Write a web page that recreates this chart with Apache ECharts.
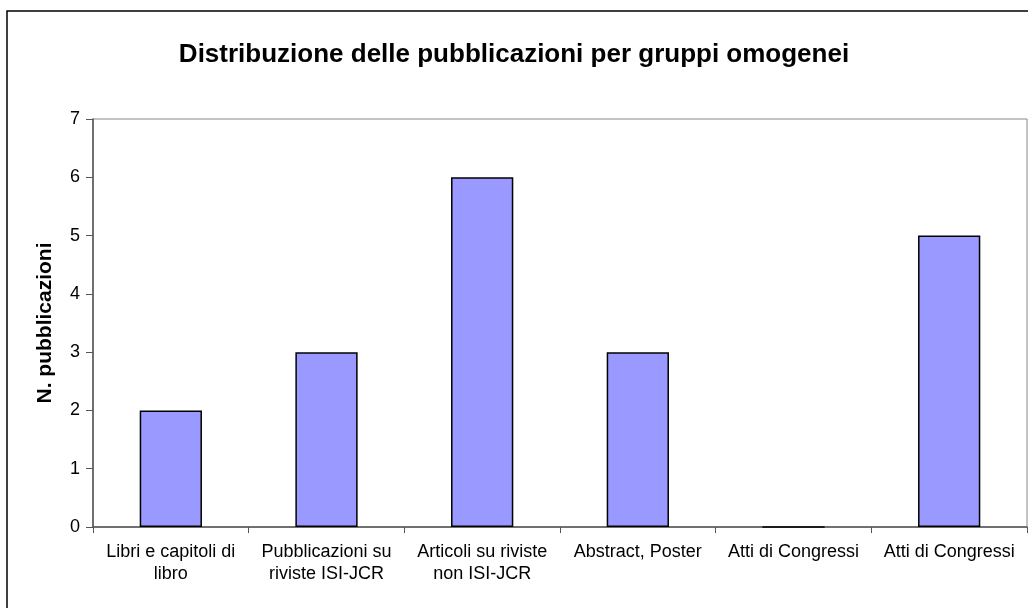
<!DOCTYPE html>
<html><head><meta charset="utf-8">
<script src="https://cdn.jsdelivr.net/npm/echarts@6/dist/echarts.min.js"></script>
<style>html,body{margin:0;padding:0;background:#fff}#c{width:1028px;height:608px}</style>
</head><body><div id="c"></div>
<script>
var categories = ["Libri e capitoli di\nlibro", "Pubblicazioni su\nriviste ISI-JCR", "Articoli su riviste\nnon ISI-JCR", "Abstract, Poster", "Atti di Congressi", "Atti di Congressi"];
var values = [2, 3, 6, 3, 0, 5];
var titleText = "Distribuzione delle pubblicazioni per gruppi omogenei";
var yName = "N. pubblicazioni";
var FONT = "'Liberation Sans', Arial, sans-serif";
var chart = echarts.init(document.getElementById('c'), null, {renderer: 'canvas'});
chart.setOption({
  animation: false,
  backgroundColor: '#fff',
  textStyle: {fontFamily: FONT},
  title: {text: titleText, left: 'center', top: 37, textStyle: {fontFamily: FONT, fontSize: 26, fontWeight: 'bold', color: '#000'}},
  graphic: [{type: 'rect', shape: {x: 7, y: 11, width: 1040, height: 620}, style: {fill: 'none', stroke: '#000', lineWidth: 1.5}, z: 100}],
  grid: {left: 93, top: 119, width: 934, height: 408, show: true, borderColor: '#888', borderWidth: 1, backgroundColor: '#fff'},
  xAxis: {
    type: 'category', data: categories,
    axisLine: {lineStyle: {color: '#555', width: 1.5}},
    axisTick: {show: true, length: 6, lineStyle: {color: '#555'}},
    axisLabel: {color: '#000', fontSize: 18, lineHeight: 22, margin: 14, interval: 0, fontFamily: FONT}
  },
  yAxis: {
    type: 'value', min: 0, max: 7, interval: 1,
    name: yName, nameLocation: 'middle', nameGap: 37,
    nameTextStyle: {fontSize: 21, fontWeight: 'bold', color: '#000', fontFamily: FONT},
    axisLine: {show: true, lineStyle: {color: '#555', width: 1.5}},
    axisTick: {show: true, length: 7, lineStyle: {color: '#555'}},
    axisLabel: {color: '#000', fontSize: 18, margin: 13, fontFamily: FONT},
    splitLine: {show: false}
  },
  series: [{
    type: 'bar', data: values, barCategoryGap: '60%',
    itemStyle: {color: '#9999FF', borderColor: '#000', borderWidth: 1.5}
  }]
});
</script></body></html>
